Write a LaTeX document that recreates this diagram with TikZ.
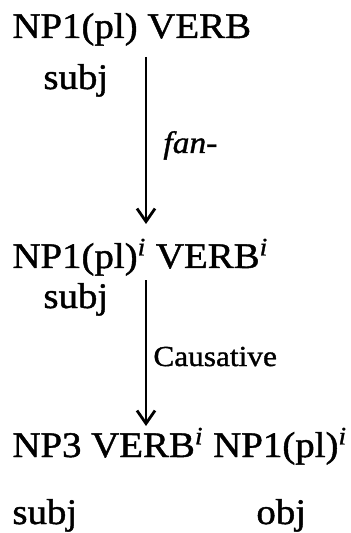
\documentclass[tikz,border=0pt]{standalone}
\usepackage{fontspec}
\setmainfont{Liberation Serif}[FakeStretch=1.08, FakeBold=1.2]
\usetikzlibrary{arrows.meta}

\newcommand{\coidx}{\textsuperscript{\textit{i}}}

\begin{document}
\begin{tikzpicture}[x=0.5pt, y=-0.5pt,
    every node/.style={inner sep=0pt, anchor=base west},
    clause/.style={font=\fontsize{18}{22}\selectfont},
    rolelab/.style={font=\fontsize{18}{22}\selectfont},
    oplab/.style={font=\fontsize{14.5}{18}\selectfont},
    derive/.style={-{Straight Barb[length=6.5pt, width=9pt, line width=1.4pt]}, line width=1pt}]

    \useasboundingbox (0,0) rectangle (350,533);

    % 1. Base clause
    \node[clause] (row1) at (12,38) {NP1(pl) VERB};
    \node[rolelab] (subj1) at (43,89) {subj};

    % 2. Clause after fan-
    \node[clause] (row2) at (12,268) {NP1(pl)\coidx{} VERB\coidx};
    \node[rolelab] (subj2) at (43,308) {subj};

    % 3. Causative clause
    \node[clause] (row3) at (12,457) {NP3 VERB\coidx{} NP1(pl)\coidx};
    \node[rolelab] (subj3) at (12,524) {subj};
    \node[rolelab] (obj3) at (256,524) {obj};

    % 4. Derivation arrows
    \coordinate (d1top) at (146,57);
    \coordinate (d1tip) at (146,224);
    \coordinate (d2top) at (146,280);
    \coordinate (d2tip) at (146,426);
    \draw[derive] (d1top) -- (d1tip);
    \draw[derive] (d2top) -- (d2tip);

    % 5. Operation labels
    \node[oplab, font=\fontsize{15.5}{18}\selectfont\itshape] (fan) at (163,153) {fan-};
    \node[oplab] (caus) at (153,366) {Causative};

\end{tikzpicture}
\end{document}
